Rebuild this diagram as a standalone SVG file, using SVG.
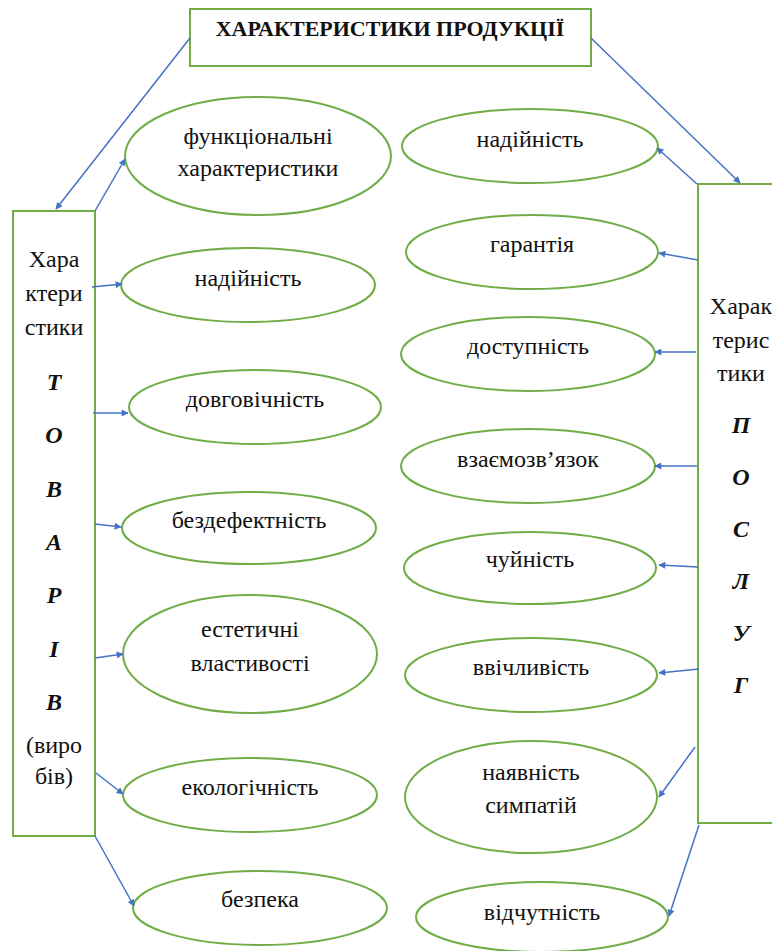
<svg xmlns="http://www.w3.org/2000/svg" width="772" height="951" viewBox="0 0 772 951">
<style>
.box{fill:#fff;stroke:#70AD47;stroke-width:2}
.ell{fill:#fff;stroke:#70AD47;stroke-width:2}
.t{font-family:"Liberation Serif","Times New Roman",serif;font-size:24px;fill:#111;text-anchor:middle}
.b{font-weight:bold;font-style:italic}
.title{font-family:"Liberation Serif","Times New Roman",serif;font-size:22px;font-weight:bold;fill:#111;text-anchor:middle}
.c{stroke:#4472C4;stroke-width:1.5;fill:none;marker-end:url(#ah)}
</style>
<defs>
<marker id="ah" viewBox="0 0 10 10" refX="9" refY="5" markerWidth="9" markerHeight="7" markerUnits="userSpaceOnUse" orient="auto">
<path d="M0,0 L10,5 L0,10 z" fill="#4472C4"/>
</marker>
</defs>
<rect width="772" height="951" fill="#fff"/>
<g id="title">
<rect class="box" x="190" y="9" width="401" height="57"/>
<text class="title" x="390" y="36">ХАРАКТЕРИСТИКИ ПРОДУКЦІЇ</text>
</g>
<g id="goods">
<rect class="box" x="13" y="211" width="82" height="625"/>
<text class="t" x="54" y="267">Хара</text>
<text class="t" x="54" y="301">ктери</text>
<text class="t" x="54" y="335">стики</text>
<text class="t b" x="54" y="390">Т</text>
<text class="t b" x="54" y="443">О</text>
<text class="t b" x="54" y="497">В</text>
<text class="t b" x="54" y="550">А</text>
<text class="t b" x="54" y="603">Р</text>
<text class="t b" x="54" y="657">І</text>
<text class="t b" x="54" y="710">В</text>
<text class="t" x="54" y="753">(виро</text>
<text class="t" x="54" y="784">бів)</text>
</g>
<g id="services">
<rect class="box" x="698" y="184" width="86" height="639"/>
<text class="t" x="741" y="314">Харак</text>
<text class="t" x="741" y="348">терис</text>
<text class="t" x="741" y="381">тики</text>
<text class="t b" x="741" y="433">П</text>
<text class="t b" x="741" y="485">О</text>
<text class="t b" x="741" y="537">С</text>
<text class="t b" x="741" y="589">Л</text>
<text class="t b" x="741" y="641">У</text>
<text class="t b" x="741" y="693">Г</text>
</g>
<g id="l1"><ellipse class="ell" cx="258" cy="156" rx="133" ry="59"/><text class="t" x="258" y="144">функціональні</text><text class="t" x="258" y="176">характеристики</text></g>
<g id="l2"><ellipse class="ell" cx="248" cy="285" rx="127" ry="37"/><text class="t" x="248" y="286">надійність</text></g>
<g id="l3"><ellipse class="ell" cx="255" cy="407" rx="126" ry="37"/><text class="t" x="255" y="407">довговічність</text></g>
<g id="l4"><ellipse class="ell" cx="249" cy="528" rx="127" ry="36"/><text class="t" x="249" y="528">бездефектність</text></g>
<g id="l5"><ellipse class="ell" cx="250" cy="654" rx="127" ry="59"/><text class="t" x="250" y="637">естетичні</text><text class="t" x="250" y="671">властивості</text></g>
<g id="l6"><ellipse class="ell" cx="250" cy="795" rx="127" ry="37"/><text class="t" x="250" y="795">екологічність</text></g>
<g id="l7"><ellipse class="ell" cx="260" cy="908" rx="127" ry="37"/><text class="t" x="260" y="907">безпека</text></g>
<g id="r1"><ellipse class="ell" cx="530" cy="146" rx="128" ry="37"/><text class="t" x="530" y="147">надійність</text></g>
<g id="r2"><ellipse class="ell" cx="532" cy="252" rx="126" ry="37"/><text class="t" x="532" y="252">гарантія</text></g>
<g id="r3"><ellipse class="ell" cx="528" cy="354" rx="127" ry="37"/><text class="t" x="528" y="354">доступність</text></g>
<g id="r4"><ellipse class="ell" cx="528" cy="466" rx="127" ry="37"/><text class="t" x="528" y="467">взаємозв’язок</text></g>
<g id="r5"><ellipse class="ell" cx="530" cy="568" rx="126" ry="36"/><text class="t" x="530" y="567">чуйність</text></g>
<g id="r6"><ellipse class="ell" cx="531" cy="675" rx="126" ry="37"/><text class="t" x="531" y="675">ввічливість</text></g>
<g id="r7"><ellipse class="ell" cx="531" cy="797" rx="126" ry="56"/><text class="t" x="531" y="780">наявність</text><text class="t" x="531" y="813">симпатій</text></g>
<g id="r8"><ellipse class="ell" cx="542" cy="917" rx="126" ry="35"/><text class="t" x="542" y="920">відчутність</text></g>
<g id="connectors">
<line class="c" x1="190" y1="38" x2="56" y2="209"/>
<line class="c" x1="591" y1="38" x2="740" y2="183"/>
<line class="c" x1="95" y1="211" x2="125" y2="159"/>
<line class="c" x1="92" y1="287" x2="122" y2="284"/>
<line class="c" x1="93" y1="413" x2="128" y2="413"/>
<line class="c" x1="95" y1="524" x2="121" y2="527"/>
<line class="c" x1="95" y1="658" x2="123" y2="654"/>
<line class="c" x1="96" y1="773" x2="123" y2="794"/>
<line class="c" x1="95" y1="836" x2="134" y2="906"/>
<line class="c" x1="697" y1="184" x2="657" y2="148"/>
<line class="c" x1="698" y1="260" x2="659" y2="253"/>
<line class="c" x1="696" y1="352" x2="655" y2="352"/>
<line class="c" x1="697" y1="466" x2="655" y2="466"/>
<line class="c" x1="698" y1="567" x2="659" y2="565"/>
<line class="c" x1="699" y1="669" x2="659" y2="673"/>
<line class="c" x1="695" y1="747" x2="659" y2="797"/>
<line class="c" x1="699" y1="825" x2="669" y2="916"/>
</g>
</svg>
